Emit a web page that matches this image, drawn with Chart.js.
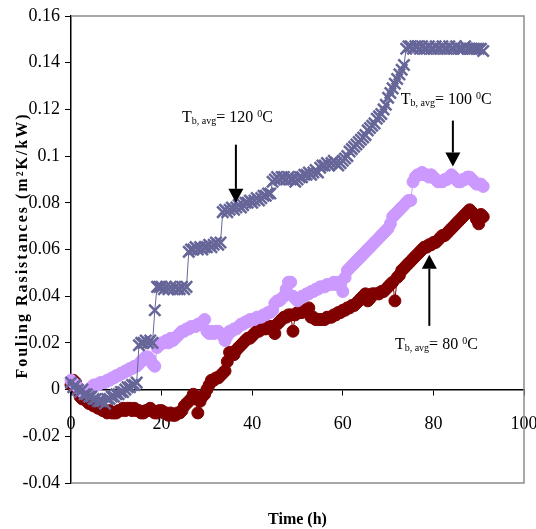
<!DOCTYPE html>
<html>
<head>
<meta charset="utf-8">
<script src="https://cdn.jsdelivr.net/npm/chart.js@4.4.0/dist/chart.umd.min.js"></script>
<style>
  html, body { margin: 0; padding: 0; background: #fff; }
  canvas { display: block; }
</style>
</head>
<body>
<canvas id="foulingChart" width="536" height="529"></canvas>
<script>
// Time of the run (h), one reading every half hour
const hours = [
  0, 0.5, 1, 1.5, 2, 2.5, 3, 3.5, 4, 4.5,
  5, 5.5, 6, 6.5, 7, 7.5, 8, 8.5, 9, 9.5,
  10, 10.5, 11, 11.5, 12, 12.5, 13, 13.5, 14, 14.5,
  15, 15.5, 16, 16.5, 17, 17.5, 18, 18.5, 19, 19.5,
  20, 20.5, 21, 21.5, 22, 22.5, 23, 23.5, 24, 24.5,
  25, 25.5, 26, 26.5, 27, 27.5, 28, 28.5, 29, 29.5,
  30, 30.5, 31, 31.5, 32, 32.5, 33, 33.5, 34, 34.5,
  35, 35.5, 36, 36.5, 37, 37.5, 38, 38.5, 39, 39.5,
  40, 40.5, 41, 41.5, 42, 42.5, 43, 43.5, 44, 44.5,
  45, 45.5, 46, 46.5, 47, 47.5, 48, 48.5, 49, 49.5,
  50, 50.5, 51, 51.5, 52, 52.5, 53, 53.5, 54, 54.5,
  55, 55.5, 56, 56.5, 57, 57.5, 58, 58.5, 59, 59.5,
  60, 60.5, 61, 61.5, 62, 62.5, 63, 63.5, 64, 64.5,
  65, 65.5, 66, 66.5, 67, 67.5, 68, 68.5, 69, 69.5,
  70, 70.5, 71, 71.5, 72, 72.5, 73, 73.5, 74, 74.5,
  75, 75.5, 76, 76.5, 77, 77.5, 78, 78.5, 79, 79.5,
  80, 80.5, 81, 81.5, 82, 82.5, 83, 83.5, 84, 84.5,
  85, 85.5, 86, 86.5, 87, 87.5, 88, 88.5, 89, 89.5,
  90, 90.5, 91
];

// Fouling resistance (m2K/kW) at bulk temperature 120 C
const rf120 = [
  0.003, 0.001, 0.002, 0.000, -0.001, 0.000, -0.002, -0.002, -0.003, -0.003,
  -0.004, -0.004, -0.005, -0.005, -0.005, -0.006, -0.004, -0.004, -0.003, -0.003,
  -0.002, -0.002, -0.001, -0.001, 0.000, 0.001, 0.001, 0.002, 0.002, 0.003,
  0.019, 0.020, 0.020, 0.021, 0.020, 0.021, 0.020, 0.034, 0.044, 0.044,
  0.044, 0.043, 0.044, 0.043, 0.044, 0.043, 0.044, 0.043, 0.043, 0.044,
  0.043, 0.044, 0.059, 0.060, 0.060, 0.061, 0.060, 0.061, 0.060, 0.061,
  0.061, 0.062, 0.061, 0.062, 0.063, 0.062, 0.063, 0.076, 0.077, 0.076,
  0.077, 0.078, 0.077, 0.078, 0.079, 0.078, 0.079, 0.080, 0.080, 0.081,
  0.080, 0.081, 0.082, 0.081, 0.082, 0.083, 0.083, 0.084, 0.084, 0.089,
  0.090, 0.091, 0.090, 0.091, 0.091, 0.090, 0.091, 0.090, 0.090, 0.089,
  0.090, 0.091, 0.091, 0.092, 0.092, 0.093, 0.092, 0.093, 0.094, 0.093,
  0.095, 0.096, 0.096, 0.097, 0.096, 0.097, 0.098, 0.097, 0.096, 0.097,
  0.098, 0.099, 0.100, 0.102, 0.103, 0.104, 0.105, 0.106, 0.107, 0.108,
  0.109, 0.111, 0.112, 0.113, 0.114, 0.116, 0.117, 0.118, 0.120, 0.122,
  0.125, 0.127, 0.129, 0.131, 0.133, 0.135, 0.137, 0.139, 0.146, 0.147,
  0.147, 0.146, 0.147, 0.147, 0.146, 0.147, 0.146, 0.146, 0.147, 0.146,
  0.146, 0.147, 0.146, 0.146, 0.147, 0.146, 0.146, 0.147, 0.146, 0.146,
  0.147, 0.146, 0.146, 0.146, 0.147, 0.146, 0.146, 0.146, 0.146, 0.146,
  0.146, 0.146, 0.145
];

// ... at 100 C
const rf100 = [
  0.004, 0.003, 0.002, 0.001, 0.000, -0.001, -0.001, -0.001, 0.000, 0.001,
  0.002, 0.002, 0.002, 0.003, 0.003, 0.003, 0.004, 0.004, 0.005, 0.005,
  0.006, 0.006, 0.007, 0.007, 0.008, 0.008, 0.009, 0.009, 0.010, 0.010,
  0.011, 0.012, 0.013, 0.014, 0.014, 0.013, 0.011, 0.010, 0.018, 0.019,
  0.020, 0.020, 0.021, 0.020, 0.022, 0.021, 0.022, 0.023, 0.024, 0.025,
  0.025, 0.026, 0.026, 0.027, 0.027, 0.027, 0.028, 0.028, 0.029, 0.030,
  0.025, 0.024, 0.025, 0.024, 0.025, 0.025, 0.024, 0.023, 0.021, 0.023,
  0.025, 0.025, 0.026, 0.026, 0.027, 0.028, 0.028, 0.029, 0.029, 0.030,
  0.030, 0.030, 0.031, 0.031, 0.031, 0.032, 0.032, 0.033, 0.033, 0.034,
  0.037, 0.038, 0.038, 0.039, 0.040, 0.043, 0.046, 0.046, 0.040, 0.039,
  0.038, 0.039, 0.040, 0.040, 0.041, 0.041, 0.042, 0.042, 0.043, 0.043,
  0.044, 0.044, 0.044, 0.045, 0.045, 0.045, 0.046, 0.045, 0.046, 0.045,
  0.042, 0.048, 0.051, 0.052, 0.053, 0.054, 0.055, 0.056, 0.057, 0.058,
  0.059, 0.060, 0.061, 0.062, 0.063, 0.064, 0.065, 0.066, 0.067, 0.068,
  0.069, 0.071, 0.074, 0.075, 0.076, 0.077, 0.078, 0.079, 0.080, 0.081,
  0.081, 0.089, 0.091, 0.092, 0.092, 0.093, 0.092, 0.092, 0.091, 0.092,
  0.091, 0.090, 0.089, 0.089, 0.089, 0.090, 0.090, 0.091, 0.092, 0.091,
  0.090, 0.089, 0.089, 0.090, 0.090, 0.091, 0.091, 0.090, 0.089, 0.088,
  0.088, 0.088, 0.087
];

// ... at 80 C
const rf80 = [
  0.002, 0.004, 0.003, 0.000, -0.003, -0.004, -0.003, -0.005, -0.006, -0.006,
  -0.007, -0.007, -0.008, -0.008, -0.009, -0.009, -0.010, -0.009, -0.010, -0.010,
  -0.010, -0.009, -0.009, -0.008, -0.009, -0.008, -0.008, -0.009, -0.008, -0.009,
  -0.009, -0.010, -0.010, -0.009, -0.009, -0.008, -0.009, -0.010, -0.010, -0.009,
  -0.009, -0.010, -0.010, -0.011, -0.010, -0.011, -0.011, -0.010, -0.010, -0.009,
  -0.007, -0.006, -0.005, -0.004, -0.002, -0.004, -0.010, -0.005, -0.003, -0.002,
  0.000, 0.002, 0.004, 0.004, 0.005, 0.005, 0.006, 0.007, 0.008, 0.012,
  0.016, 0.015, 0.015, 0.017, 0.018, 0.019, 0.020, 0.021, 0.022, 0.022,
  0.023, 0.024, 0.025, 0.025, 0.026, 0.026, 0.026, 0.027, 0.027, 0.027,
  0.024, 0.028, 0.029, 0.030, 0.031, 0.031, 0.032, 0.032, 0.025, 0.032,
  0.033, 0.033, 0.033, 0.034, 0.034, 0.035, 0.031, 0.031, 0.030, 0.030,
  0.030, 0.030, 0.030, 0.031, 0.031, 0.031, 0.032, 0.032, 0.033, 0.033,
  0.034, 0.034, 0.035, 0.035, 0.036, 0.036, 0.037, 0.038, 0.039, 0.040,
  0.041, 0.038, 0.039, 0.041, 0.041, 0.041, 0.041, 0.042, 0.042, 0.043,
  0.044, 0.045, 0.046, 0.038, 0.048, 0.049, 0.051, 0.052, 0.053, 0.054,
  0.055, 0.056, 0.057, 0.058, 0.059, 0.060, 0.061, 0.061, 0.062, 0.062,
  0.063, 0.063, 0.064, 0.065, 0.066, 0.066, 0.067, 0.068, 0.069, 0.070,
  0.071, 0.072, 0.073, 0.074, 0.075, 0.076, 0.077, 0.076, 0.075, 0.073,
  0.071, 0.075, 0.074
];

// Temperature labels with their arrows, placed in axis units
const notes = [
  { temp: '120', textX: 24.5, textY: 0.1148, arrowX: 36.4, arrowFrom: 0.1049, arrowTo: 0.0800 },
  { temp: '100', textX: 72.8, textY: 0.1225, arrowX: 84.3, arrowFrom: 0.1152, arrowTo: 0.0955 },
  { temp: '80',  textX: 71.5, textY: 0.0175, arrowX: 79.1, arrowFrom: 0.0273, arrowTo: 0.0577 }
];

const SERIF = '"Liberation Serif", "Times New Roman", serif';

function toPoints(values) {
  return hours.map((h, i) => ({ x: h, y: values[i] }));
}

function drawNote(ctx, x, y, temp) {
  let cx = x;
  const part = (str, size, dy) => {
    ctx.font = size + 'px ' + SERIF;
    ctx.fillText(str, cx, y + dy);
    cx += ctx.measureText(str).width;
  };
  part('T', 16, 0);
  part('b, avg', 10, 2.5);
  part('= ' + temp + ' ', 16, 0);
  part('0', 10, -5);
  part('C', 16, 0);
}

function drawArrow(ctx, x, y0, y1) {
  const dir = y1 > y0 ? 1 : -1;
  const head = 14;
  ctx.beginPath();
  ctx.moveTo(x, y0);
  ctx.lineTo(x, y1 - dir * head);
  ctx.stroke();
  ctx.beginPath();
  ctx.moveTo(x, y1);
  ctx.lineTo(x - 7.5, y1 - dir * head);
  ctx.lineTo(x + 7.5, y1 - dir * head);
  ctx.closePath();
  ctx.fill();
}

const decorations = {
  id: 'decorations',
  beforeDatasetsDraw(chart) {
    const { ctx, chartArea: a } = chart;
    // grey frame on top, right and bottom
    ctx.save();
    ctx.strokeStyle = '#8c8c8c';
    ctx.lineWidth = 1.5;
    ctx.beginPath();
    ctx.moveTo(a.left, a.top);
    ctx.lineTo(a.right, a.top);
    ctx.lineTo(a.right, a.bottom);
    ctx.lineTo(a.left, a.bottom);
    ctx.stroke();
    ctx.restore();
  },
  afterDraw(chart) {
    const { ctx, chartArea: a, scales } = chart;
    const xs = scales.x, ys = scales.y;
    ctx.save();
    ctx.fillStyle = '#000';
    ctx.strokeStyle = '#000';
    ctx.lineWidth = 2;
    ctx.textAlign = 'left';
    ctx.textBaseline = 'alphabetic';
    notes.forEach(n => {
      drawNote(ctx, xs.getPixelForValue(n.textX), ys.getPixelForValue(n.textY), n.temp);
      drawArrow(ctx, xs.getPixelForValue(n.arrowX), ys.getPixelForValue(n.arrowFrom), ys.getPixelForValue(n.arrowTo));
    });

    // axis titles
    ctx.textAlign = 'center';
    ctx.textBaseline = 'middle';
    ctx.font = 'bold 16px ' + SERIF;
    ctx.fillText('Time (h)', (a.left + a.right) / 2, 520);

    ctx.translate(23, (a.top + a.bottom) / 2 - 4);
    ctx.rotate(-Math.PI / 2);
    ctx.letterSpacing = '2px';
    ctx.fillText('Fouling Rasistances (m\u00b2K/kW)', 0, 0);
    ctx.restore();
  }
};

new Chart(document.getElementById('foulingChart'), {
  type: 'line',
  data: {
    datasets: [
      {
        label: 'T = 120 C',
        data: toPoints(rf120),
        borderColor: '#666699',
        borderWidth: 1,
        pointStyle: 'crossRot',
        pointRadius: 8,
        pointBorderWidth: 2.5,
        pointBorderColor: '#666699',
        pointBackgroundColor: '#666699',
        clip: false
      },
      {
        label: 'T = 100 C',
        data: toPoints(rf100),
        borderColor: '#cc99ff',
        borderWidth: 1,
        pointStyle: 'circle',
        pointRadius: 6,
        pointBorderWidth: 1,
        pointBorderColor: '#cc99ff',
        pointBackgroundColor: '#cc99ff',
        clip: false
      },
      {
        label: 'T = 80 C',
        data: toPoints(rf80),
        borderColor: '#800000',
        borderWidth: 1,
        pointStyle: 'circle',
        pointRadius: 6,
        pointBorderWidth: 1,
        pointBorderColor: '#800000',
        pointBackgroundColor: '#800000',
        clip: false
      }
    ]
  },
  options: {
    responsive: false,
    animation: false,
    layout: { padding: { left: 0, right: 12, top: 16, bottom: 46 } },
    plugins: {
      legend: { display: false },
      tooltip: { enabled: false }
    },
    scales: {
      x: {
        type: 'linear',
        axis: 'x',
        position: { y: 0 },
        min: 0,
        max: 100,
        afterFit(scale) {
          scale.paddingLeft = 0;
          scale.paddingRight = 0;
        },
        ticks: {
          stepSize: 20,
          padding: 19,
          color: '#000',
          font: { family: SERIF, size: 18 }
        },
        grid: { drawOnChartArea: false, drawTicks: true, tickLength: 5, color: '#000' },
        border: { color: '#000', width: 1.5 }
      },
      y: {
        type: 'linear',
        min: -0.04,
        max: 0.16,
        afterFit(scale) { scale.width = 71; },
        ticks: {
          stepSize: 0.02,
          padding: 5,
          color: '#000',
          font: { family: SERIF, size: 18 },
          callback: v => String(+v.toFixed(2))
        },
        grid: { drawOnChartArea: false, drawTicks: true, tickLength: 6, color: '#000' },
        border: { color: '#000', width: 1.5 }
      }
    }
  },
  plugins: [decorations]
});
</script>
</body>
</html>
